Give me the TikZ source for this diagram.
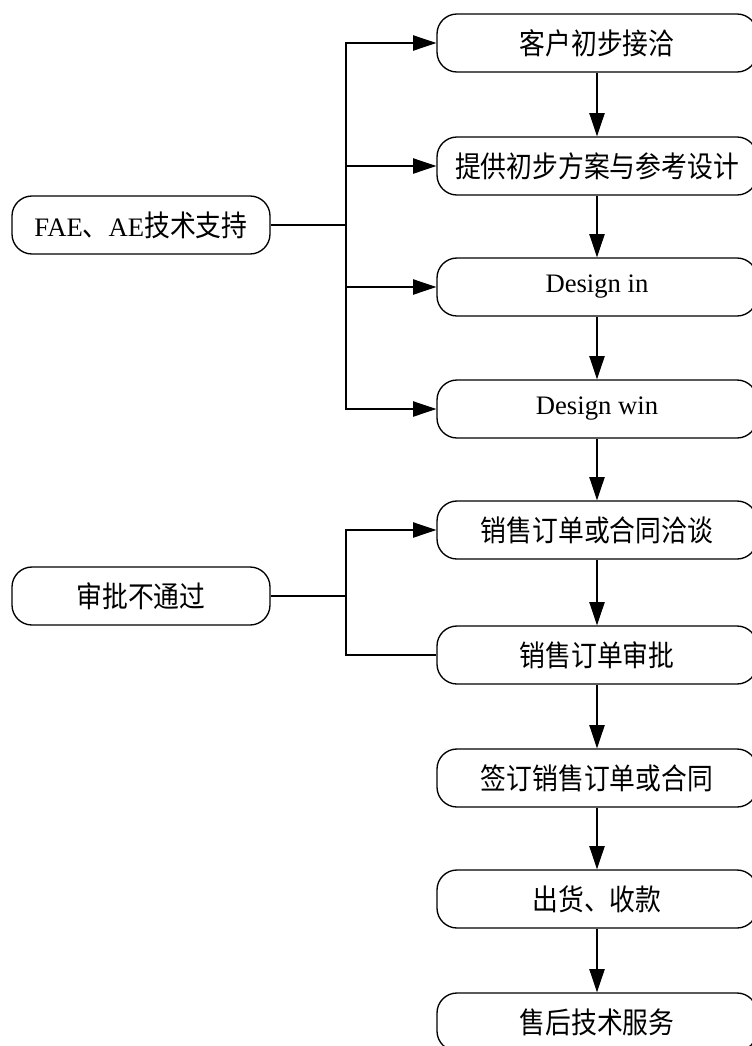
\documentclass[tikz,border=0pt]{standalone}
\usepackage{fontspec}
\setmainfont{Liberation Serif}
\newfontfamily\cjk[FakeStretch=0.88]{Noto Sans CJK SC}
\usetikzlibrary{arrows.meta, positioning}

\tikzset{
  stepbox/.style={draw, line width=1pt, rounded corners=15pt,
    minimum width=240pt, minimum height=43.5pt, inner sep=0pt,
    font=\fontsize{20pt}{24pt}\selectfont},
  sidebox/.style={stepbox, minimum width=193.5pt},
  flow/.style={line width=1pt, -{Triangle[length=17.5pt, width=11.5pt]}},
  plain/.style={line width=1pt}
}

\begin{document}
\begin{tikzpicture}[x=0.75pt, y=-0.75pt]
    \useasboundingbox (0, 0) rectangle (752, 1046);

    \node[stepbox] (b1) at (597, 43) {\cjk\fontsize{22pt}{24pt}\selectfont 客户初步接洽};
    \node[stepbox] (b2) at (597, 166) {\cjk\fontsize{22pt}{24pt}\selectfont 提供初步方案与参考设计};
    \node[stepbox] (b3) at (597, 287) {Design in};
    \node[stepbox] (b4) at (597, 409) {Design win};
    \node[stepbox] (b5) at (597, 530) {\cjk\fontsize{22pt}{24pt}\selectfont 销售订单或合同洽谈};
    \node[stepbox] (b6) at (597, 655) {\cjk\fontsize{22pt}{24pt}\selectfont 销售订单审批};
    \node[stepbox] (b7) at (597, 778) {\cjk\fontsize{22pt}{24pt}\selectfont 签订销售订单或合同};
    \node[stepbox] (b8) at (597, 899) {\cjk\fontsize{22pt}{24pt}\selectfont 出货、收款};
    \node[stepbox] (b9) at (597, 1022) {\cjk\fontsize{22pt}{24pt}\selectfont 售后技术服务};

    \node[sidebox] (fae) at (141, 225) {FAE{\cjk\fontsize{22pt}{24pt}\selectfont 、}AE{\cjk\fontsize{22pt}{24pt}\selectfont 技术支持}};
    \node[sidebox] (rej) at (141, 596) {\cjk\fontsize{22pt}{24pt}\selectfont 审批不通过};

    \coordinate (j1) at (346, 225);
    \coordinate (j2) at (346, 596);

    % main flow
    \draw
    (b1) edge[flow] (b2)
    (b2) edge[flow] (b3)
    (b3) edge[flow] (b4)
    (b4) edge[flow] (b5)
    (b5) edge[flow] (b6)
    (b6) edge[flow] (b7)
    (b7) edge[flow] (b8)
    (b8) edge[flow] (b9);

    % support branches
    \draw[plain] (fae) -- (j1);
    \draw[flow] (j1) |- (b1);
    \draw[flow] (j1) |- (b2);
    \draw[flow] (j1) |- (b3);
    \draw[flow] (j1) |- (b4);

    % rejection loop
    \draw[plain] (rej) -- (j2);
    \draw[flow] (j2) |- (b5);
    \draw[plain] (j2) |- (b6);
\end{tikzpicture}
\end{document}
